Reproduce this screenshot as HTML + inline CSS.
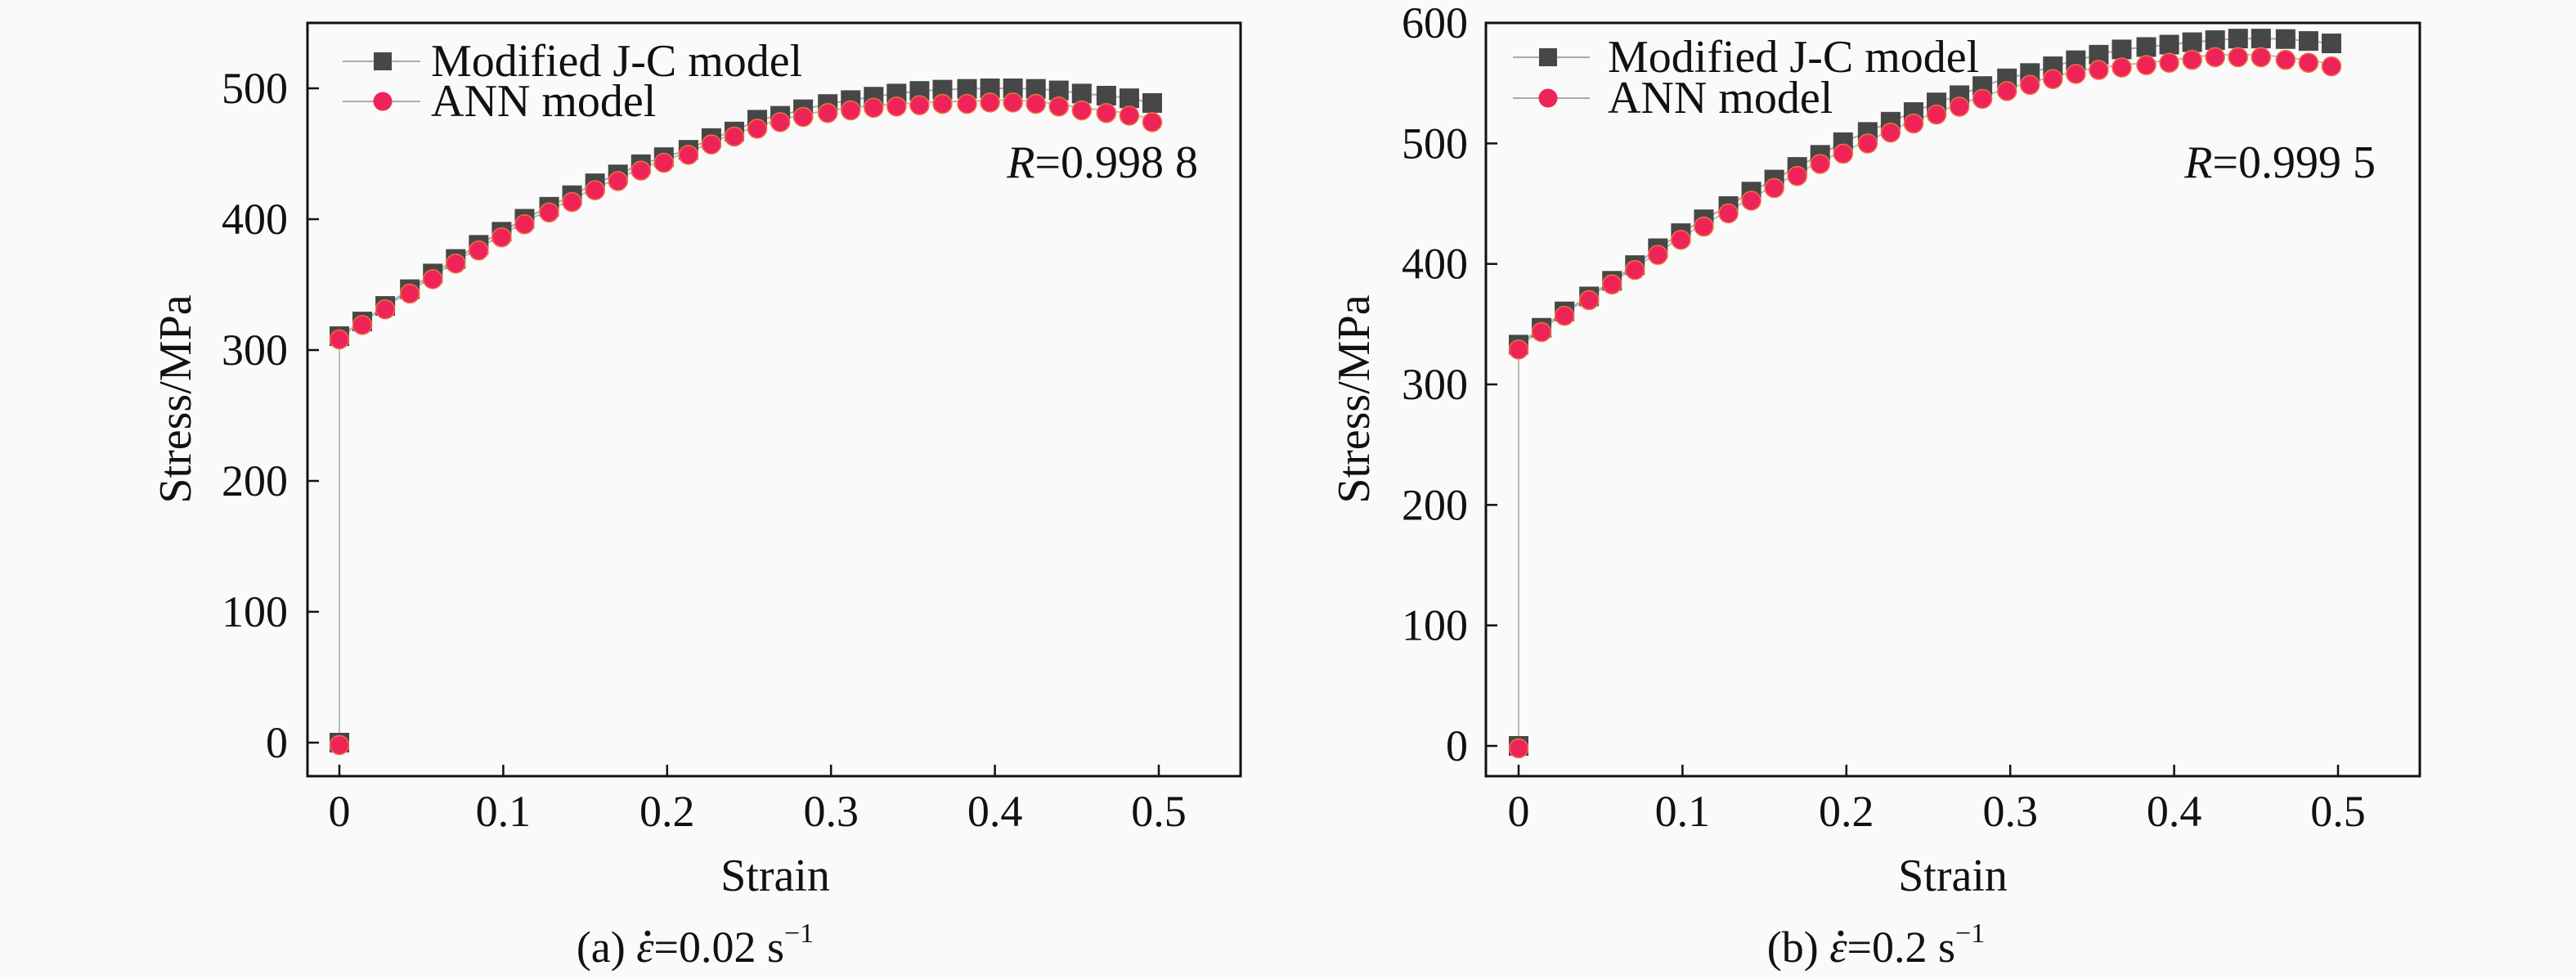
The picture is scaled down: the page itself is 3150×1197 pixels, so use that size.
<!DOCTYPE html>
<html><head><meta charset="utf-8"><style>
html,body{margin:0;padding:0;background:#fafafa;}
svg, svg text{font-family:"Liberation Serif","DejaVu Serif",serif;}
</style></head><body>
<svg id="fig" width="3150" height="1192" viewBox="0 0 3150 1192" font-family="Liberation Serif, serif"></svg>
<script>
const strain=[0,0.014,0.028,0.043,0.057,0.071,0.085,0.099,0.113,0.128,0.142,0.156,0.170,0.184,0.198,0.213,0.227,0.241,0.255,0.269,0.283,0.298,0.312,0.326,0.340,0.354,0.368,0.383,0.397,0.411,0.425,0.439,0.453,0.468,0.482,0.496];
const jcA=[310.6,321.8,333.7,346.5,358.5,369.6,380.4,390.4,400.3,409.5,418.3,427.4,434.2,442,447.4,453,462,467,476,479,484,488,491,493.6,496,498,499,499.6,500,500,499.6,498.4,496,494.4,492.4,488.8];
const annA=[310,321,333,345,356,368,378,388,398,407,415,424,431,439,445,451,459,465,471,476,480,483,485,487,488,489,490,490,491,491,490,488,485,483,481,476];
const jcB=[333,347,360.6,373,386,399,413,425.5,437,448,460,470,480.5,490.5,501,509.5,518,526,534,540,547.6,554,558.4,564,569,573.6,578,580,582,584,585.7,587,587,586.6,585,583];
const annB=[331,345.5,359,372,385,397,409.5,422,433,444,454.5,465,475,485,493.5,502,511,518.6,526,532.5,539,545.5,550.6,555.4,559.7,563,565,567,569,571.4,573.6,573.6,573.6,571.4,569,566];
const xTicks=[0,0.1,0.2,0.3,0.4,0.5];
const yTicksA=[0,100,200,300,400,500];
const yTicksB=[0,100,200,300,400,500,600];

const NS="http://www.w3.org/2000/svg";
const svg=document.getElementById('fig');
const FF='"Liberation Serif","DejaVu Serif",serif';
function mk(tag,attrs,parent,text){const e=document.createElementNS(NS,tag);for(const k in attrs)e.setAttribute(k,attrs[k]);if(tag==='text')e.style.fontFamily=FF;if(text!==undefined)e.textContent=text;(parent||svg).appendChild(e);return e;}

const panels=[
 {id:'a',L:376,R:1517,T:28,B:949,x0:415,xs:2004,y0:908,ys:1.6,yt:yTicksA,labR:352,ylabX:214,jc:jcA,ann:annA,
  legLine:[419,514],legMark:468,legText:527,legY:[75,124],rx:1465,strainX:948,capX:850,rText:'0.998 8',cap:'0.02'},
 {id:'b',L:1817,R:2959,T:28,B:949,x0:1857,xs:2004,y0:912,ys:1.4733,yt:yTicksB,labR:1795,ylabX:1655,jc:jcB,ann:annB,
  legLine:[1850,1944],legMark:1893,legText:1966,legY:[70,120],rx:2905,strainX:2388,capX:2294,rText:'0.999 5',cap:'0.2'}
];

panels.forEach(p=>{
 const g=mk('g',{});
 
 
 const X=v=>p.x0+v*p.xs, Y=v=>p.y0-v*p.ys;
 xTicks.forEach(t=>{
  const tk=mk('line',{x1:X(t),x2:X(t),y1:p.B,y2:p.B-14,stroke:'#111','stroke-width':2.5},g);
  
  
  const tl=mk('text',{x:X(t),y:1010,'font-size':54,'text-anchor':'middle',fill:'#111'},g,String(t));
  
  
 });
 p.yt.forEach(t=>{
  const tk=mk('line',{x1:p.L,x2:p.L+14,y1:Y(t),y2:Y(t),stroke:'#111','stroke-width':2.5},g);
  
  
  const tl=mk('text',{x:p.labR,y:Y(t)+18,'font-size':54,'text-anchor':'end',fill:'#111'},g,String(t));
  
  
 });
 const fr=mk('rect',{x:p.L,y:p.T,width:p.R-p.L,height:p.B-p.T,fill:'none',stroke:'#111','stroke-width':3},g);
 
 
 const ptsJ=[[X(0),Y(0)]].concat(strain.map((s,i)=>[X(s),Y(p.jc[i])]));
 const ptsA=[[X(0),Y(0)]].concat(strain.map((s,i)=>[X(s),Y(p.ann[i])]));
 const lj=mk('polyline',{points:ptsJ.map(q=>q.join(',')).join(' '),fill:'none',stroke:'#aaa','stroke-width':2},g);
 
 
 const la=mk('polyline',{points:ptsA.map(q=>q.join(',')).join(' '),fill:'none',stroke:'#bbb','stroke-width':2},g);
 
 
 ptsJ.forEach(q=>{
  const m=mk('rect',{x:q[0]-12,y:q[1]-12,width:24,height:24,fill:'#474747'},g);
  
  
 });
 ptsA.forEach(q=>{
  const m=mk('circle',{cx:q[0],cy:q[1]+3,r:11.5,fill:'#ee2458',stroke:'#f07040','stroke-width':1.5},g);
  
  
 });
 const l1=mk('line',{x1:p.legLine[0],x2:p.legLine[1],y1:p.legY[0],y2:p.legY[0],stroke:'#aaa','stroke-width':2},g);
 
 
 const m1=mk('rect',{x:p.legMark-11,y:p.legY[0]-11,width:22,height:22,fill:'#474747'},g);
 
 
 const t1=mk('text',{x:p.legText,y:p.legY[0]+18,'font-size':56,fill:'#111'},g,'Modified J-C model');
 
 
 const l2=mk('line',{x1:p.legLine[0],x2:p.legLine[1],y1:p.legY[1],y2:p.legY[1],stroke:'#aaa','stroke-width':2},g);
 
 
 const m2=mk('circle',{cx:p.legMark,cy:p.legY[1],r:11.5,fill:'#ee2458'},g);
 
 
 const t2=mk('text',{x:p.legText,y:p.legY[1]+18,'font-size':56,fill:'#111'},g,'ANN model');
 
 
 const rt=mk('text',{x:p.rx,y:217,'font-size':56,'text-anchor':'end',fill:'#111'},g);
 
 
 mk('tspan',{'font-style':'italic'},rt,'R');
 mk('tspan',{},rt,'='+p.rText);
 const yl=mk('text',{x:p.ylabX,y:488,'font-size':56,'text-anchor':'middle',fill:'#111',transform:`rotate(-90 ${p.ylabX} 488)`,dy:19},g,'Stress/MPa');
 
 
 const xl=mk('text',{x:p.strainX,y:1089,'font-size':56,'text-anchor':'middle',fill:'#111'},g,'Strain');
 
 
 const cp=mk('text',{x:p.capX,y:1176,'font-size':54,'text-anchor':'middle',fill:'#111'},g);
 
 
 mk('tspan',{},cp,'('+p.id+') ');
 mk('tspan',{'font-style':'italic'},cp,'\u03B5');
 mk('tspan',{},cp,'='+p.cap+' s');
 mk('tspan',{'font-size':34,dy:-24},cp,'\u22121');
 try{
  const ext=cp.getExtentOfChar(4);
  const dot=mk('circle',{cx:ext.x+ext.width/2+3,cy:ext.y+ext.height*0.22,r:3.5,fill:'#111'},g);
  
  
 }catch(e){}
});
</script>
</body></html>
